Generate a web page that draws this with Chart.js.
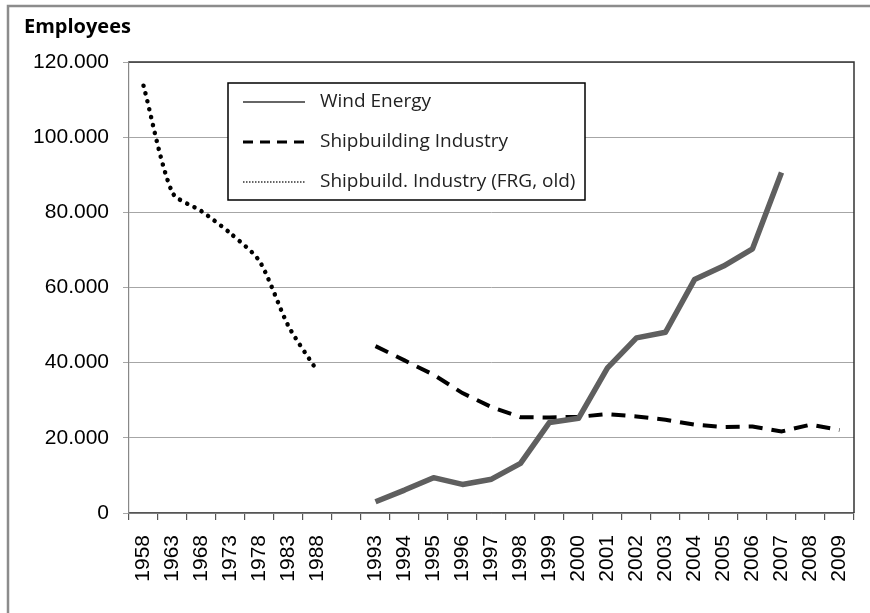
<!DOCTYPE html>
<html>
<head>
<meta charset="utf-8">
<script src="https://cdn.jsdelivr.net/npm/chart.js@4.4.1/dist/chart.umd.min.js"></script>
<style>
    html, body { margin: 0; padding: 0; background: #fff; }
    #wrap { width: 870px; height: 613px; }
</style>
</head>
<body>
<div id="wrap"><canvas id="employeesChart"></canvas></div>
<script>
const years = ['1958', '1963', '1968', '1973', '1978', '1983', '1988', '',
    '1993', '1994', '1995', '1996', '1997', '1998', '1999', '2000', '2001',
    '2002', '2003', '2004', '2005', '2006', '2007', '2008', '2009']

const windEnergy = [null, null, null, null, null, null, null, null,
    3000, 6100, 9400, 7600, 9000, 13200, 24100, 25200, 38600,
    46600, 48100, 62100, 65700, 70300, 90600, null, null]

const shipbuilding = [null, null, null, null, null, null, null, null,
    44400, 40600, 36800, 31900, 28200, 25500, 25400, 25600, 26300,
    25700, 24800, 23500, 22900, 23000, 21700, 23500, 22100]

const shipbuildingOld = [113700, 85200, 80300, 74400, 67000, 49700, 37700, null,
    null, null, null, null, null, null, null, null, null,
    null, null, null, null, null, null, null, null]

const yTicks = [0, 20000, 40000, 60000, 80000, 100000, 120000]

const fmt = (v) => String(v).replace(/\B(?=(\d{3})+(?!\d))/g, '.')

const tickFont = {family: '"Liberation Sans", Arial, sans-serif', size: 21}

const framePlugin = {
    id: 'frame',
    beforeDraw(chart) {
        const {ctx, width, height} = chart
        ctx.save()
        ctx.fillStyle = '#fff'
        ctx.fillRect(0, 0, width, height)
        ctx.strokeStyle = '#8c8c8c'
        ctx.lineWidth = 2.5
        ctx.beginPath()
        ctx.moveTo(width, 6)
        ctx.lineTo(8, 6)
        ctx.lineTo(8, height)
        ctx.stroke()
        ctx.restore()
    },
    beforeDatasetsDraw(chart) {
        const {ctx, chartArea: a} = chart
        ctx.save()
        ctx.strokeStyle = '#333'
        ctx.lineWidth = 1.5
        ctx.beginPath()
        ctx.moveTo(a.left, a.top)
        ctx.lineTo(a.right, a.top)
        ctx.lineTo(a.right, a.bottom)
        ctx.stroke()
        ctx.restore()
    }
}

// boxed legend inside the plot, like the original
const boxLegend = {
    id: 'boxLegend',
    afterDraw(chart) {
        const {ctx} = chart
        const x = 228, y = 83, w = 357, h = 117
        ctx.save()
        ctx.fillStyle = '#fff'
        ctx.fillRect(x, y, w, h)
        ctx.strokeStyle = '#000'
        ctx.lineWidth = 1.5
        ctx.strokeRect(x, y, w, h)

        const rows = [
            {label: 'Wind Energy', color: '#666', width: 2, dash: []},
            {label: 'Shipbuilding Industry', color: '#000', width: 3, dash: [10, 7]},
            {label: 'Shipbuild. Industry (FRG, old)', color: '#333', width: 1.5, dash: [1.5, 1.5]}
        ]
        ctx.font = '19px "Open Sans", sans-serif'
        ctx.textBaseline = 'middle'
        rows.forEach((r, i) => {
            const ry = 102 + i * 40
            ctx.strokeStyle = r.color
            ctx.lineWidth = r.width
            ctx.setLineDash(r.dash)
            ctx.beginPath()
            ctx.moveTo(243, ry)
            ctx.lineTo(305, ry)
            ctx.stroke()
            ctx.setLineDash([])
            ctx.fillStyle = '#222'
            ctx.fillText(r.label, 320, ry)
        })
        ctx.restore()
    }
}

const init = () => {
    const ctx = document.getElementById('employeesChart')

    new Chart(ctx, {
        type: 'line',
        data: {
            labels: years,
            datasets: [
                {
                    label: 'Wind Energy',
                    data: windEnergy,
                    borderColor: '#5f5f5f',
                    borderWidth: 5.5,
                    pointRadius: 0,
                    borderJoinStyle: 'round'
                },
                {
                    label: 'Shipbuilding Industry',
                    data: shipbuilding,
                    borderColor: '#000',
                    borderWidth: 4,
                    borderDash: [14, 9],
                    pointRadius: 0
                },
                {
                    label: 'Shipbuild. Industry (FRG, old)',
                    data: shipbuildingOld,
                    borderColor: '#000',
                    borderWidth: 4.5,
                    borderDash: [0.1, 8],
                    borderCapStyle: 'round',
                    pointRadius: 0,
                    tension: 0.25
                }
            ]
        },
        options: {
            responsive: true,
            maintainAspectRatio: false,
            animation: false,
            layout: {padding: {left: 24, right: 16, top: 0, bottom: 0}},
            plugins: {
                legend: {display: false},
                tooltip: {enabled: false},
                title: {
                    display: true,
                    text: 'Employees',
                    align: 'start',
                    color: '#000',
                    font: {family: '"Open Sans", sans-serif', size: 20, weight: 'bold', lineHeight: 1.2},
                    padding: {top: 15, bottom: 23}
                }
            },
            scales: {
                x: {
                    offset: true,
                    grid: {
                        offset: true,
                        drawOnChartArea: false,
                        tickLength: 7,
                        color: '#555',
                        lineWidth: 1.2
                    },
                    border: {display: true, color: '#555', width: 1.5},
                    ticks: {
                        autoSkip: false,
                        minRotation: 90,
                        maxRotation: 90,
                        padding: 15,
                        color: '#000',
                        font: tickFont
                    },
                    afterFit: (scale) => {
                        scale.height = 100
                        scale.paddingLeft = 0
                        scale.paddingRight = 0
                    }
                },
                y: {
                    min: 0,
                    max: 120000,
                    afterBuildTicks: (scale) => { scale.ticks = yTicks.map(v => ({value: v})) },
                    grid: {color: '#a6a6a6', lineWidth: 1, tickLength: 6},
                    border: {display: true, color: '#888', width: 1.2},
                    ticks: {
                        padding: 14,
                        color: '#000',
                        font: tickFont,
                        callback: (v) => fmt(v)
                    },
                    afterFit: (scale) => { scale.width = 105 }
                }
            }
        },
        plugins: [framePlugin, boxLegend]
    })
}

document.addEventListener('DOMContentLoaded', init)
</script>
</body>
</html>
